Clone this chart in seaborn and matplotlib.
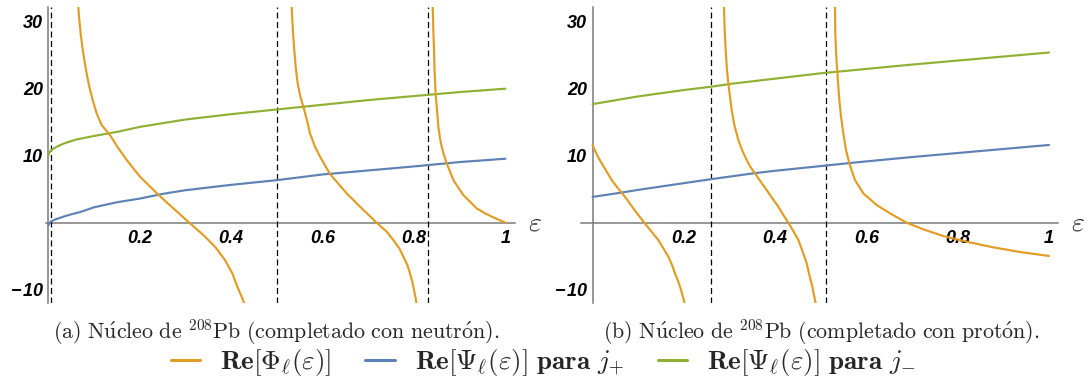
import numpy as np
import pandas as pd
import matplotlib
matplotlib.use("Agg")
import matplotlib.pyplot as plt
import seaborn as sns

# ---------------- data: neutron-completed nucleus (panel a) ----------------
a_green_x = [0.0, 0.002, 0.005, 0.01, 0.02, 0.035, 0.06, 0.1, 0.15, 0.2, 0.3, 0.4, 0.5, 0.6, 0.7, 0.8, 0.9, 1.0]
a_green_y = [10.0, 10.45, 10.75, 11.0, 11.4, 11.85, 12.4, 12.95, 13.55, 14.3, 15.4, 16.2, 16.9, 17.6, 18.3, 18.9, 19.5, 20.0]

a_blue_x = [0.0, 0.002, 0.005, 0.01, 0.02, 0.035, 0.05, 0.07, 0.1, 0.15, 0.2, 0.25, 0.3, 0.4, 0.5, 0.6, 0.7, 0.8, 0.9, 1.0]
a_blue_y = [-0.4, -0.1, 0.15, 0.35, 0.6, 0.95, 1.25, 1.6, 2.3, 3.05, 3.6, 4.3, 4.85, 5.65, 6.35, 7.2, 7.8, 8.4, 9.05, 9.55]

a_phi1_x = [0.0645, 0.0655, 0.0677, 0.0706, 0.0742, 0.0786, 0.0837, 0.0896, 0.0969, 0.1056, 0.1166,
            0.1348, 0.1508, 0.1713, 0.2004, 0.2405, 0.2734, 0.3084, 0.339, 0.3646, 0.3864, 0.4025,
            0.4134, 0.4229, 0.4302, 0.4325]
a_phi1_y = [33.0, 32.14, 30.25, 28.27, 26.27, 24.28, 22.29, 20.30, 18.31, 16.32, 14.58,
            13.09, 11.35, 9.36, 6.87, 4.18, 2.14, 0.0, -1.84, -3.58, -5.57, -7.56,
            -9.55, -11.04, -12.28, -13.0]

a_phi2_x = [0.5316, 0.5323, 0.5345, 0.5374, 0.5411, 0.5454, 0.5513, 0.5578, 0.5666, 0.5724, 0.5834,
            0.5943, 0.6162, 0.6527, 0.6818, 0.7183, 0.7402, 0.7548, 0.7679, 0.7767, 0.7854,
            0.7912, 0.7963, 0.80, 0.8037, 0.8058, 0.8068]
a_phi2_y = [33.0, 32.14, 29.26, 26.27, 23.29, 20.80, 18.81, 17.32, 15.08, 13.34, 11.35,
            9.86, 7.27, 4.38, 2.39, 0.0, -1.34, -2.58, -3.83, -5.07, -6.31,
            -7.56, -8.80, -10.04, -11.29, -12.28, -13.0]

a_phi3_x = [0.8405, 0.8409, 0.8423, 0.8438, 0.8452, 0.8474, 0.8503, 0.8532, 0.8569, 0.8605, 0.8656,
            0.8715, 0.8788, 0.8861, 0.8970, 0.9079, 0.9225, 0.9371, 0.9554, 0.9736, 0.9882, 1.0]
a_phi3_y = [33.0, 32.14, 28.76, 25.78, 22.29, 19.16, 16.82, 14.33, 12.59, 11.35, 10.10,
            8.86, 7.62, 6.37, 5.23, 4.13, 3.14, 2.14, 1.40, 0.80, 0.35, 0.0]

a_marks = [0.006, 0.501, 0.831]

# ---------------- data: proton-completed nucleus (panel b) ----------------
b_green_x = [0.0, 0.1, 0.2, 0.26, 0.3, 0.4, 0.5, 0.6, 0.7, 0.8, 0.9, 1.0]
b_green_y = [17.7, 18.85, 19.8, 20.3, 20.7, 21.5, 22.3, 22.95, 23.6, 24.2, 24.8, 25.4]

b_blue_x = [0.0, 0.064, 0.1, 0.2, 0.26, 0.356, 0.4, 0.5, 0.563, 0.6, 0.7, 0.8, 0.9, 1.0]
b_blue_y = [3.85, 4.5, 4.9, 5.9, 6.5, 7.4, 7.75, 8.45, 8.9, 9.15, 9.8, 10.4, 11.0, 11.6]

b_phi1_x = [0.0, 0.0040, 0.0091, 0.0142, 0.0201, 0.0310, 0.0420, 0.0529, 0.0639, 0.0763, 0.0894,
            0.1004, 0.1135, 0.1282, 0.1442, 0.1552, 0.1661, 0.1742, 0.1807, 0.1880, 0.1939,
            0.1990, 0.2026, 0.2045]
b_phi1_y = [11.6, 10.95, 10.25, 9.56, 8.86, 7.62, 6.37, 5.38, 4.48, 3.39, 2.14,
            1.15, 0.0, -1.24, -2.58, -3.83, -5.07, -6.31, -7.56, -8.80, -10.04,
            -11.29, -12.28, -13.0]

b_phi2_x = [0.2876, 0.2881, 0.2895, 0.2917, 0.2946, 0.2976, 0.3012, 0.3049, 0.3107, 0.3195, 0.3282,
            0.3377, 0.3465, 0.3560, 0.3684, 0.3815, 0.3939, 0.4071, 0.4180, 0.4290, 0.4399,
            0.4509, 0.4604, 0.4692, 0.4750, 0.4816, 0.4859, 0.4896, 0.4916]
b_phi2_y = [33.0, 32.14, 28.76, 25.78, 22.79, 20.75, 18.81, 16.82, 14.58, 12.34, 10.75,
            9.36, 8.26, 7.37, 6.12, 4.88, 3.64, 2.39, 1.15, 0.0, -1.24,
            -2.58, -4.32, -6.06, -7.81, -9.55, -11.04, -12.28, -13.0]

b_phi3_x = [0.5309, 0.5312, 0.5319, 0.5334, 0.5349, 0.5363, 0.5385, 0.5407, 0.5444, 0.5495, 0.5553,
            0.5626, 0.5750, 0.5933, 0.6225, 0.6517, 0.6882, 0.7247, 0.7685, 0.8196, 0.8781,
            0.9365, 1.0]
b_phi3_y = [33.0, 32.14, 28.27, 25.78, 23.79, 22.59, 20.30, 18.31, 15.83, 13.34, 10.85,
            8.86, 6.37, 4.38, 2.64, 1.40, 0.0, -0.99, -1.99, -2.83, -3.68,
            -4.37, -4.97]

b_marks = [0.260, 0.511]

x_ticks = [0.2, 0.4, 0.6, 0.8, 1.0]
x_tick_labels = ["0.2", "0.4", "0.6", "0.8", "1"]
y_ticks = [-10, 10, 20, 30]
y_tick_labels = ["\u2212\u200a10", "10", "20", "30"]

captions = [r"$\mathrm{(a)\ N\acute{u}cleo\ de\ {}^{208}Pb\ (completado\ con\ neutr\acute{o}n).}$",
            r"$\mathrm{(b)\ N\acute{u}cleo\ de\ {}^{208}Pb\ (completado\ con\ prot\acute{o}n).}$"]
legend_labels = [r"$\mathbf{Re}[\mathbf{\Phi}_{\ell}(\varepsilon)]$",
                 r"$\mathbf{Re}[\mathbf{\Psi}_{\ell}(\varepsilon)]\ \mathbf{para}\ j_{+}$",
                 r"$\mathbf{Re}[\mathbf{\Psi}_{\ell}(\varepsilon)]\ \mathbf{para}\ j_{-}$"]

# ---------------- style ----------------
sns.set_theme(style="white")
plt.rcParams["font.family"] = ["DejaVu Sans"]
plt.rcParams["mathtext.fontset"] = "cm"

ORANGE = "#E19C24"
BLUE = "#5E81B5"
GREEN = "#8FB032"
AXIS = "#7a7a7a"
LW = 1.55

fig = plt.figure(figsize=(10.87, 3.88), dpi=100)
ax_a = fig.add_axes([0.0424, 0.2183, 0.4314, 0.7629])
ax_b = fig.add_axes([0.5346, 0.2183, 0.4388, 0.7629])


def curve(ax, xs, ys, color):
    df = pd.DataFrame({"x": xs, "y": ys})
    sns.lineplot(data=df, x="x", y="y", ax=ax, color=color, lw=LW,
                 estimator=None, sort=False, legend=False)


def style_axes(ax, xlim, marks):
    ax.set_xlim(*xlim)
    ax.set_ylim(-12.03, 32.15)
    for xm in marks:
        ax.axvline(xm, color="black", lw=0.9, ls=(0, (4.8, 2.8)), zorder=1)
    for side in ("top", "right"):
        ax.spines[side].set_visible(False)
    for side in ("left", "bottom"):
        ax.spines[side].set_position(("data", 0))
        ax.spines[side].set_color(AXIS)
        ax.spines[side].set_linewidth(1.1)
        ax.spines[side].set_zorder(0.5)
    ax.set_xticks(x_ticks, x_tick_labels)
    ax.set_yticks(y_ticks, y_tick_labels)
    ax.tick_params(axis="both", direction="in", length=4, width=0.9, color=AXIS,
                   labelsize=13, labelcolor="black")
    ax.tick_params(axis="x", pad=5)
    ax.tick_params(axis="y", pad=4)
    for lab in ax.get_xticklabels() + ax.get_yticklabels():
        lab.set_fontfamily("Liberation Sans")
        lab.set_fontweight("bold")
        lab.set_fontstyle("italic")
    ax.set_xlabel("")
    ax.set_ylabel("")
    ax.grid(False)
    ax.set_facecolor("white")
    ax.annotate(r"$\varepsilon$", xy=(1.0, 0.0), xycoords=("axes fraction", "data"),
                xytext=(20, 0), textcoords="offset pixels", ha="center", va="center",
                fontsize=20, annotation_clip=False)


curve(ax_a, a_blue_x, a_blue_y, BLUE)
curve(ax_a, a_green_x, a_green_y, GREEN)
for xs, ys in [(a_phi1_x, a_phi1_y), (a_phi2_x, a_phi2_y), (a_phi3_x, a_phi3_y)]:
    curve(ax_a, xs, ys, ORANGE)
style_axes(ax_a, (-0.005, 1.021), a_marks)

curve(ax_b, b_blue_x, b_blue_y, BLUE)
curve(ax_b, b_green_x, b_green_y, GREEN)
for xs, ys in [(b_phi1_x, b_phi1_y), (b_phi2_x, b_phi2_y), (b_phi3_x, b_phi3_y)]:
    curve(ax_b, xs, ys, ORANGE)
style_axes(ax_b, (-0.025, 1.02), b_marks)

fig.text(276 / 1087, 1 - 333 / 388, captions[0], ha="center", va="center", fontsize=15.8)
fig.text(821 / 1087, 1 - 333 / 388, captions[1], ha="center", va="center", fontsize=15.8)

handles = [plt.Line2D([], [], color=c, lw=2.2) for c in (ORANGE, BLUE, GREEN)]
fig.legend(handles, legend_labels, loc="center", bbox_to_anchor=(0.5, 1 - 363 / 388),
           ncol=3, frameon=False, fontsize=19.5, handlelength=1.08, handletextpad=0.74,
           columnspacing=1.25, borderpad=0, borderaxespad=0)

fig.savefig("out.png", dpi=100, facecolor="white")
